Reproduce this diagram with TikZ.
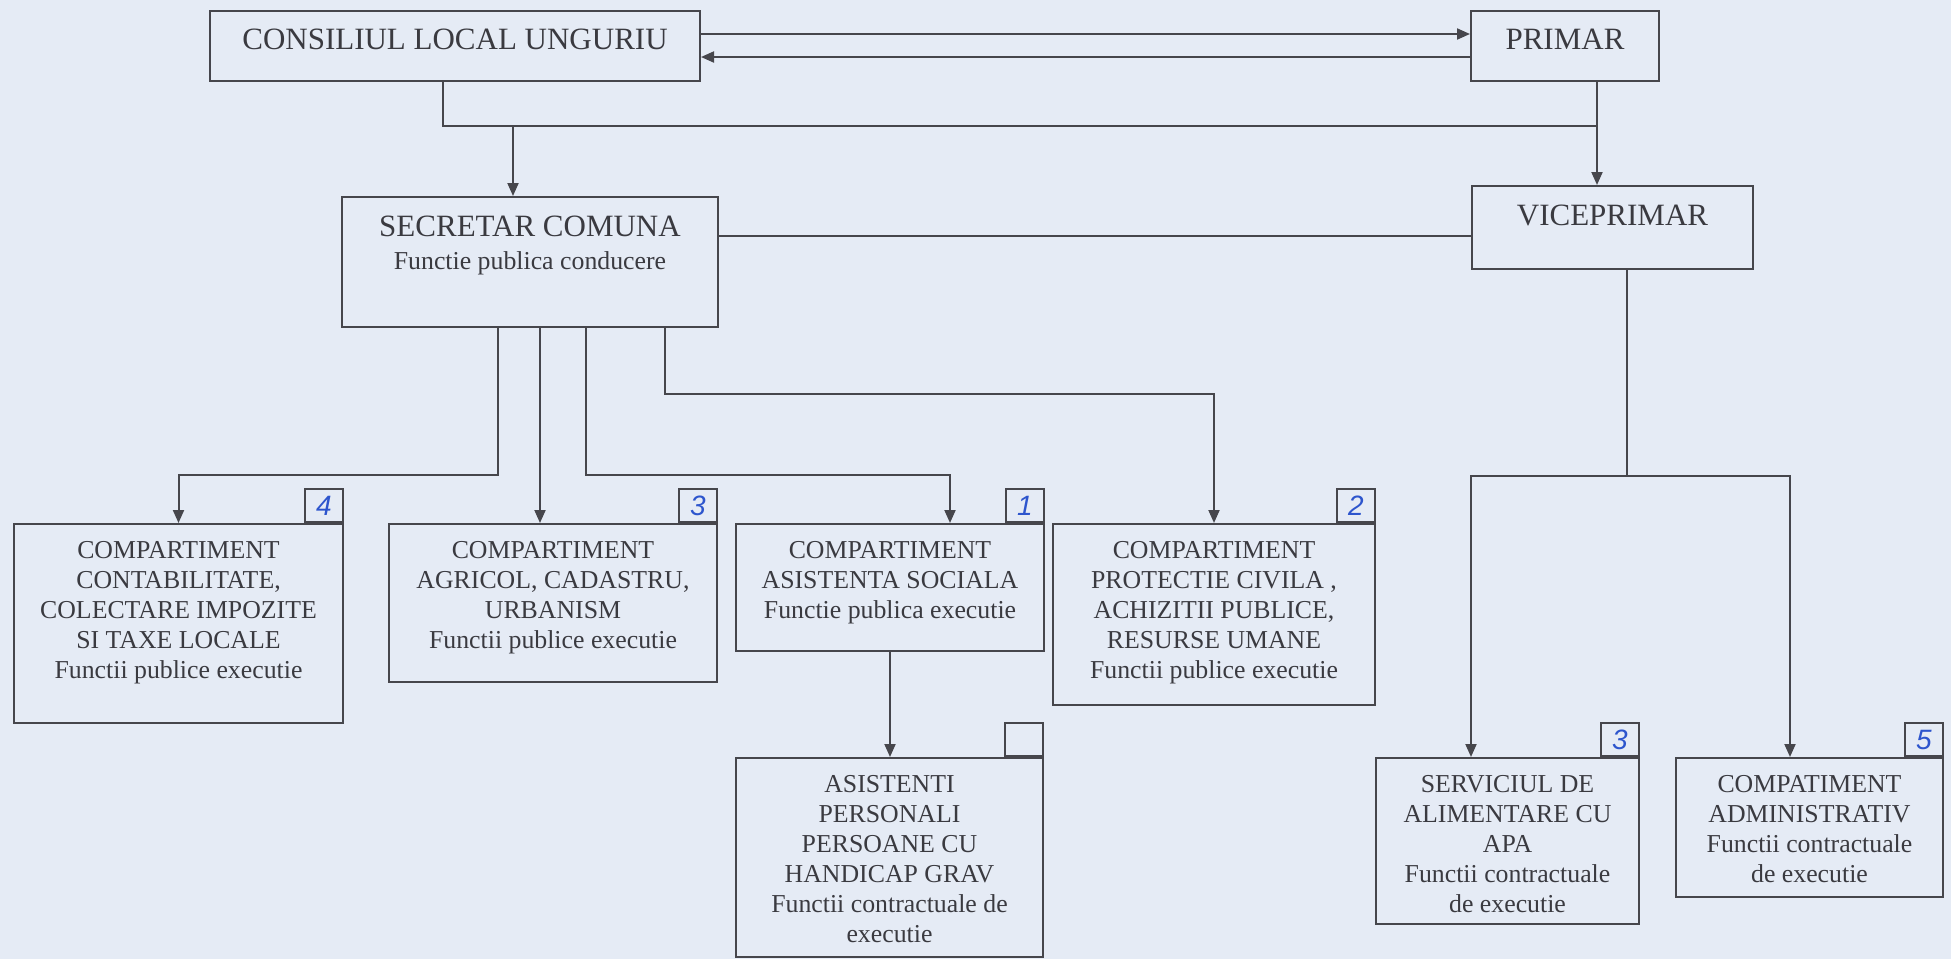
\documentclass[tikz,border=0pt]{standalone}
\usepackage{fontspec}
\setmainfont{Liberation Serif}
\newfontfamily\handfont{Liberation Sans}
\usepackage{tikz}
\usetikzlibrary{arrows.meta}
\usetikzlibrary{positioning}
\definecolor{paper}{RGB}{229,235,245}
\definecolor{ink}{RGB}{58,58,64}
\definecolor{wire}{RGB}{70,70,76}
\definecolor{pen}{RGB}{45,85,205}
\tikzset{
    unit/.style={
        draw=wire,
        line width=1pt,
        inner sep=0pt,
        anchor=north west
    },
    badge/.style={
        draw=wire,
        line width=1pt,
        inner sep=0pt,
        anchor=south east,
        minimum width=19pt,
        minimum height=16.5pt,
        text=pen,
        font=\handfont\itshape\fontsize{14}{14}\selectfont
    },
    head/.style={text=ink, inner sep=0pt, font=\fontsize{15.5}{18}\selectfont},
    body/.style={text=ink, inner sep=0pt, align=center, font=\fontsize{12.9}{15}\selectfont}
}

\begin{document}
\begin{tikzpicture}[
      x = 0.5pt,
      y = -0.5pt,
      > = {Triangle[length=6.5pt, width=5.5pt]},
      line width = 1pt,
      draw = wire
  ]
  \useasboundingbox (0,0) rectangle (1951,959);
  \fill[paper] (0,0) rectangle (1951,959);

  % Define the boxes
  \node[unit, minimum width=245pt, minimum height=35pt] (consiliu) at (209,10) {};
  \node[unit, minimum width=94pt, minimum height=35pt] (primar) at (1470,10) {};
  \node[unit, minimum width=188pt, minimum height=65pt] (secretar) at (341,196) {};
  \node[unit, minimum width=140.5pt, minimum height=41.5pt] (vice) at (1471,185) {};
  \node[unit, minimum width=164.5pt, minimum height=99.5pt] (contab) at (13,523) {};
  \node[unit, minimum width=164pt, minimum height=79pt] (agricol) at (388,523) {};
  \node[unit, minimum width=154pt, minimum height=63.5pt] (social) at (735,523) {};
  \node[unit, minimum width=161pt, minimum height=90.5pt] (protectie) at (1052,523) {};
  \node[unit, minimum width=153.5pt, minimum height=99.5pt] (asistenti) at (735,757) {};
  \node[unit, minimum width=131.5pt, minimum height=83pt] (apa) at (1375,757) {};
  \node[unit, minimum width=133.5pt, minimum height=69.5pt] (admin) at (1675,757) {};

  % Define the numbers in the corners
  \node[badge] (nr4) at (contab.north east) {4};
  \node[badge] (nr3) at (agricol.north east) {3};
  \node[badge] (nr1) at (social.north east) {1};
  \node[badge] (nr2) at (protectie.north east) {2};
  \node[badge] (nr0) at (asistenti.north east) {};
  \node[badge] (nr3b) at (apa.north east) {3};
  \node[badge] (nr5) at (admin.north east) {5};

  % Define the texts
  \node[head, below=9pt of consiliu.north] (consiliuT) {CONSILIUL LOCAL UNGURIU};
  \node[head, below=9pt of primar.north] (primarT) {PRIMAR};
  \node[head, below=9.4pt of secretar.north] (secretarT) {SECRETAR COMUNA};
  \node[body, below=6.5pt of secretarT] (secretarS) {Functie publica conducere};
  \node[head, below=9.4pt of vice.north] (viceT) {VICEPRIMAR};
  \node[body, below=8.5pt of contab.north] (contabT)
    {COMPARTIMENT\\CONTABILITATE,\\COLECTARE IMPOZITE\\SI TAXE LOCALE\\Functii publice executie};
  \node[body, below=8.5pt of agricol.north] (agricolT)
    {COMPARTIMENT\\AGRICOL, CADASTRU,\\URBANISM\\Functii publice executie};
  \node[body, below=8.5pt of social.north] (socialT)
    {COMPARTIMENT\\ASISTENTA SOCIALA\\Functie publica executie};
  \node[body, below=8.5pt of protectie.north] (protectieT)
    {COMPARTIMENT\\PROTECTIE CIVILA ,\\ACHIZITII PUBLICE,\\RESURSE UMANE\\Functii publice executie};
  \node[body, below=8.5pt of asistenti.north] (asistentiT)
    {ASISTENTI\\PERSONALI\\PERSOANE CU\\HANDICAP GRAV\\Functii contractuale de\\executie};
  \node[body, below=8.5pt of apa.north] (apaT)
    {SERVICIUL DE\\ALIMENTARE CU\\APA\\Functii contractuale\\de executie};
  \node[body, below=8.5pt of admin.north] (adminT)
    {COMPATIMENT\\ADMINISTRATIV\\Functii contractuale\\de executie};

  % Define the bends of the connectors
  \coordinate (busL) at (443,126);
  \coordinate (busS) at (513,126);
  \coordinate (busR) at (1597,126);
  \coordinate (side) at (0,236);
  \coordinate (brA) at (498,475);
  \coordinate (brB) at (540,475);
  \coordinate (brC) at (586,475);
  \coordinate (brCe) at (950,475);
  \coordinate (brD) at (665,394);
  \coordinate (vbus) at (1627,476);
  \coordinate (vbusL) at (1471,476);
  \coordinate (vbusR) at (1790,476);

  % Consiliu and primar
  \draw[->] ([yshift=6pt]consiliu.east) -- ([yshift=6pt]primar.west);
  \draw[->] ([yshift=-5.5pt]primar.west) -- ([yshift=-5.5pt]consiliu.east);
  \draw (consiliu.south -| busL) -- (busL) -- (busR);
  \draw[->] (primar.south -| busR) -- (vice.north -| busR);
  \draw[->] (busS) -- (secretar.north -| busS);
  \draw (secretar.east |- side) -- (vice.west |- side);

  % From secretar
  \draw[->] (secretar.south -| brA) -- (brA) -| (contab.north);
  \draw[->] (secretar.south -| brB) -- (agricol.north -| brB);
  \draw[->] (secretar.south -| brC) -- (brC) -- (brCe) -- (social.north -| brCe);
  \draw[->] (secretar.south -| brD) -- (brD) -| (protectie.north);
  \draw[->] (social.south) -- (social.south |- asistenti.north);

  % From viceprimar
  \draw (vice.south -| vbus) -- (vbus);
  \draw[->] (vbus) -- (vbusL) -- (apa.north -| vbusL);
  \draw[->] (vbus) -- (vbusR) -- (admin.north -| vbusR);
\end{tikzpicture}
\end{document}
